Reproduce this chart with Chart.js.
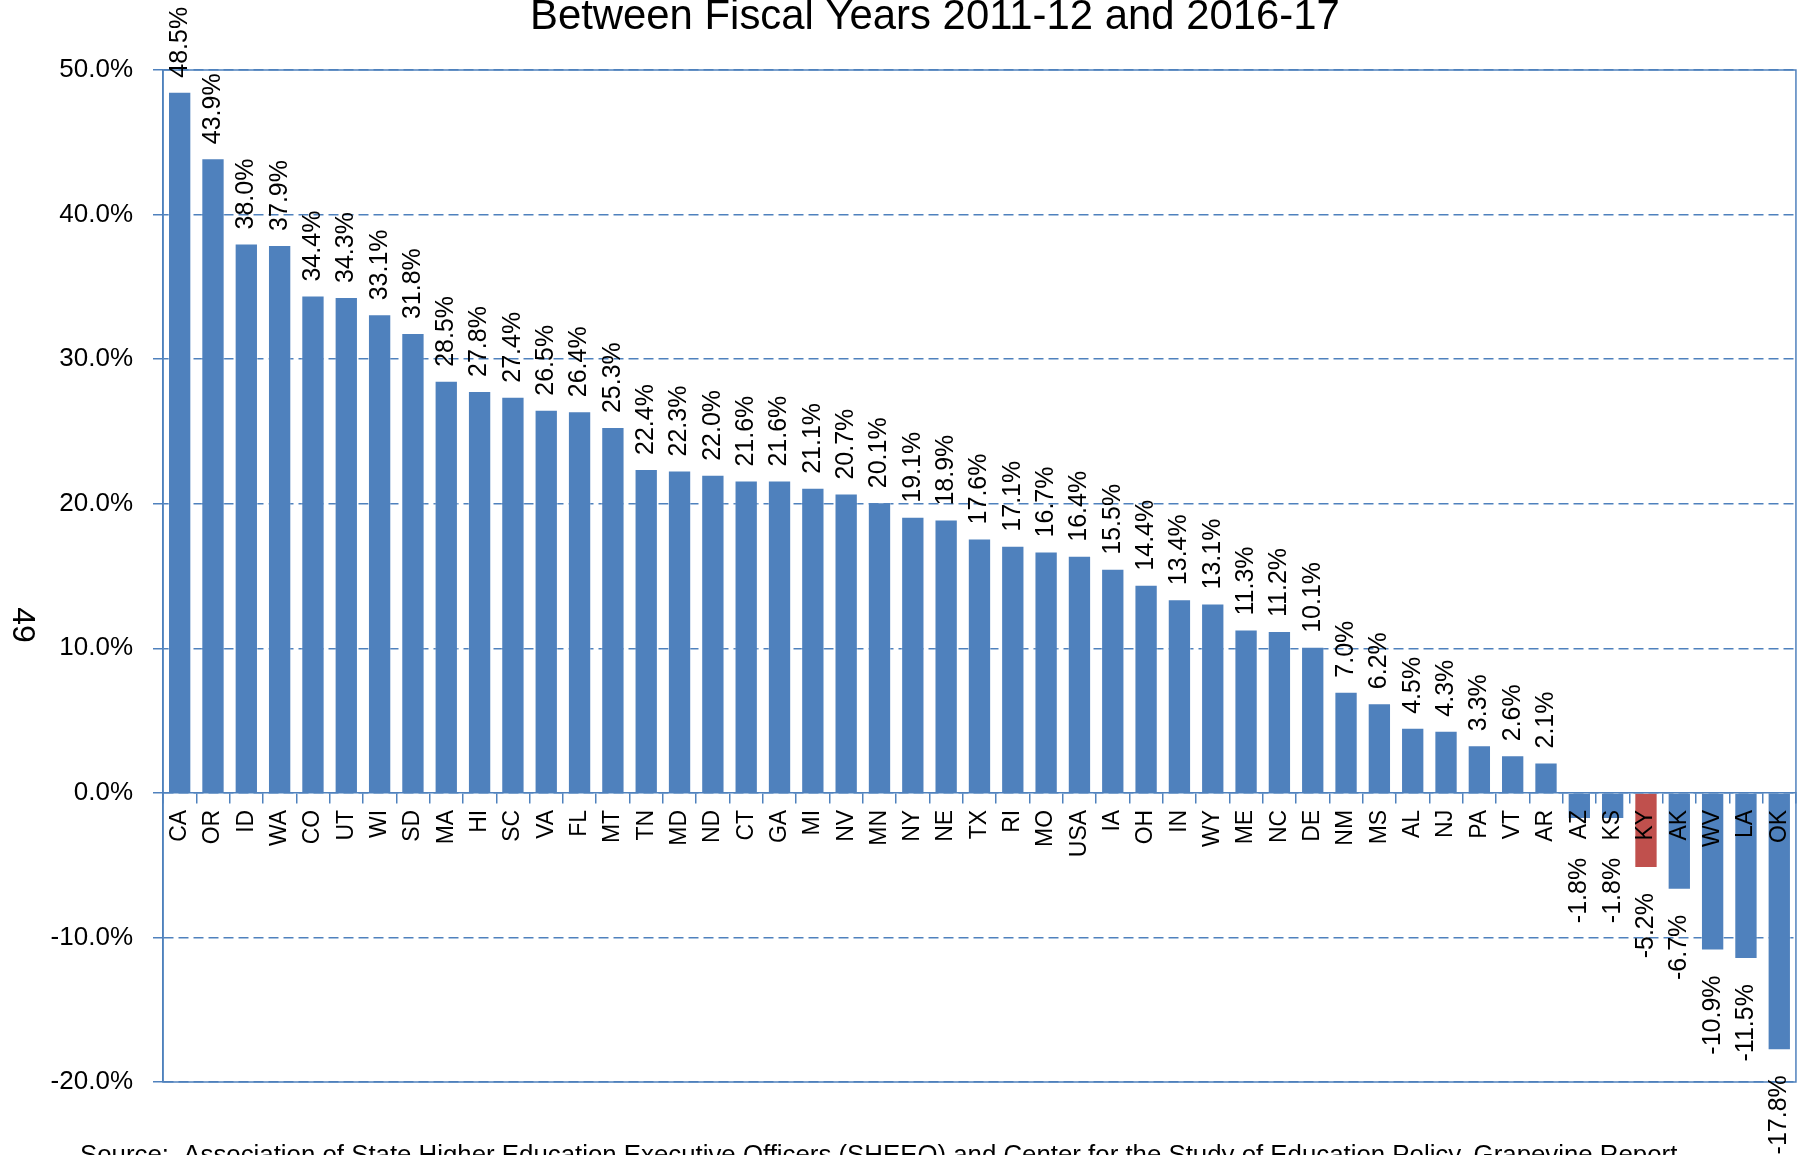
<!DOCTYPE html>
<html>
<head>
<meta charset="utf-8">
<title>Change in Education Appropriations per FTE</title>
<script src="https://cdn.jsdelivr.net/npm/chart.js@4/dist/chart.umd.min.js"></script>
<style>
  html, body { margin: 0; padding: 0; background: #fff; }
  #wrap { width: 1814px; height: 1155px; }
</style>
</head>
<body>
<div id="wrap"><canvas id="stateChart" width="1814" height="1155"></canvas></div>
<script>
'use strict';

// data -----------------------------------------------------------------------
let states = ['CA', 'OR', 'ID', 'WA', 'CO', 'UT', 'WI', 'SD', 'MA', 'HI', 'SC', 'VA', 'FL', 'MT',
  'TN', 'MD', 'ND', 'CT', 'GA', 'MI', 'NV', 'MN', 'NY', 'NE', 'TX', 'RI', 'MO', 'USA', 'IA', 'OH',
  'IN', 'WY', 'ME', 'NC', 'DE', 'NM', 'MS', 'AL', 'NJ', 'PA', 'VT', 'AR', 'AZ', 'KS', 'KY', 'AK',
  'WV', 'LA', 'OK'];
let pctChange = [48.5, 43.9, 38.0, 37.9, 34.4, 34.3, 33.1, 31.8, 28.5, 27.8, 27.4, 26.5, 26.4, 25.3,
  22.4, 22.3, 22.0, 21.6, 21.6, 21.1, 20.7, 20.1, 19.1, 18.9, 17.6, 17.1, 16.7, 16.4, 15.5, 14.4,
  13.4, 13.1, 11.3, 11.2, 10.1, 7.0, 6.2, 4.5, 4.3, 3.3, 2.6, 2.1, -1.8, -1.8, -5.2, -6.7,
  -10.9, -11.5, -17.8];
let highlightState = 'KY';
let yTicks = [-20, -10, 0, 10, 20, 30, 40, 50];
let titleText = 'Between Fiscal Years 2011-12 and 2016-17';
let sourceText = 'Source:  Association of State Higher Education Executive Officers (SHEEO) and Center for the Study of Education Policy, Grapevine Report';
let axisTitle = '49';

// styles
const BLUE = '#4F81BD';
const RED = '#C0504D';
const FONT = '"Liberation Sans", Arial, sans-serif';

let barColors = states.map(s => s === highlightState ? RED : BLUE);

// draws text so it spans a given width
function fitText(ctx, text, x, y, size, width) {
  ctx.font = size + 'px ' + FONT;
  let w = ctx.measureText(text).width;
  let s = size * width / w;
  ctx.font = s + 'px ' + FONT;
  ctx.fillText(text, x, y);
}

// frame around plot + extra text
let framePlugin = {
  id: 'frame',
  beforeDatasetsDraw(chart) {
    let ctx = chart.ctx;
    let a = chart.chartArea;
    ctx.save();
    ctx.strokeStyle = BLUE;
    ctx.lineWidth = 1.5;
    ctx.strokeRect(a.left, a.top, a.right - a.left, a.bottom - a.top);
    ctx.restore();
  },
  afterDraw(chart) {
    let ctx = chart.ctx;
    ctx.save();
    ctx.fillStyle = '#000';
    ctx.textAlign = 'left';
    ctx.textBaseline = 'alphabetic';
    fitText(ctx, titleText, 530, 29, 41, 810);
    fitText(ctx, sourceText, 80, 1163, 24, 1598);
    // rotated axis title
    ctx.translate(22, 625);
    ctx.rotate(Math.PI / 2);
    ctx.font = '32px ' + FONT;
    ctx.textAlign = 'center';
    ctx.textBaseline = 'middle';
    ctx.fillText(axisTitle, 0, 0);
    ctx.restore();
  }
};

// value labels on the bars
let labelPlugin = {
  id: 'barLabels',
  afterDatasetsDraw(chart) {
    let ctx = chart.ctx;
    let meta = chart.getDatasetMeta(0);
    let zeroY = chart.scales.y.getPixelForValue(0);
    ctx.save();
    ctx.fillStyle = '#000';
    ctx.font = '25px ' + FONT;
    ctx.textBaseline = 'middle';
    meta.data.forEach((bar, i) => {
      let v = pctChange[i];
      let txt = v.toFixed(1) + '%';
      ctx.save();
      if (v >= 0) {
        ctx.translate(bar.x, bar.y - 14);
        ctx.rotate(-Math.PI / 2);
        ctx.textAlign = 'left';
      } else {
        let y = Math.max(bar.y + 25, zeroY + 65);
        ctx.translate(bar.x, y);
        ctx.rotate(-Math.PI / 2);
        ctx.textAlign = 'right';
      }
      ctx.fillText(txt, 0, 0);
      ctx.restore();
    });
    ctx.restore();
  }
};

let chartObject = {
  type: 'bar',
  data: {
    labels: states,
    datasets: [{
      label: 'Percent change',
      data: pctChange,
      backgroundColor: barColors,
      borderColor: 'rgba(255,255,255,0.35)',
      borderWidth: 1,
      barPercentage: 0.7,
      categoryPercentage: 1
    }]
  },
  options: {
    responsive: false,
    animation: false,
    layout: {
      padding: { left: 0, right: 12, top: 70, bottom: 73 }
    },
    plugins: {
      legend: { display: false },
      title: { display: false },
      tooltip: { enabled: false }
    },
    scales: {
      x: {
        position: { y: 0 },
        grid: {
          display: true,
          drawOnChartArea: false,
          drawTicks: true,
          tickLength: 10,
          color: BLUE,
          lineWidth: 1.5
        },
        // zero line and state labels go over the negative bars
        border: { display: true, color: BLUE, width: 1.5, z: 1 },
        ticks: {
          z: 1,
          color: '#000',
          font: { family: FONT, size: 23 },
          minRotation: 90,
          maxRotation: 90,
          autoSkip: false,
          padding: 7
        }
      },
      y: {
        min: yTicks[0],
        max: yTicks[yTicks.length - 1],
        afterFit(scale) {
          scale.width = 163;
        },
        afterBuildTicks(scale) {
          scale.ticks = yTicks.map(v => ({ value: v }));
        },
        grid: {
          color: BLUE,
          lineWidth: 1.5,
          tickLength: 10,
          tickBorderDash: [],
          tickColor: BLUE
        },
        border: { display: true, color: BLUE, width: 1.5, dash: [10, 5] },
        ticks: {
          color: '#000',
          font: { family: FONT, size: 26 },
          padding: 20,
          callback: v => v.toFixed(1) + '%'
        }
      }
    }
  },
  plugins: [framePlugin, labelPlugin]
};

let ctx = document.getElementById('stateChart').getContext('2d');
let myChart = new Chart(ctx, chartObject);
</script>
</body>
</html>
